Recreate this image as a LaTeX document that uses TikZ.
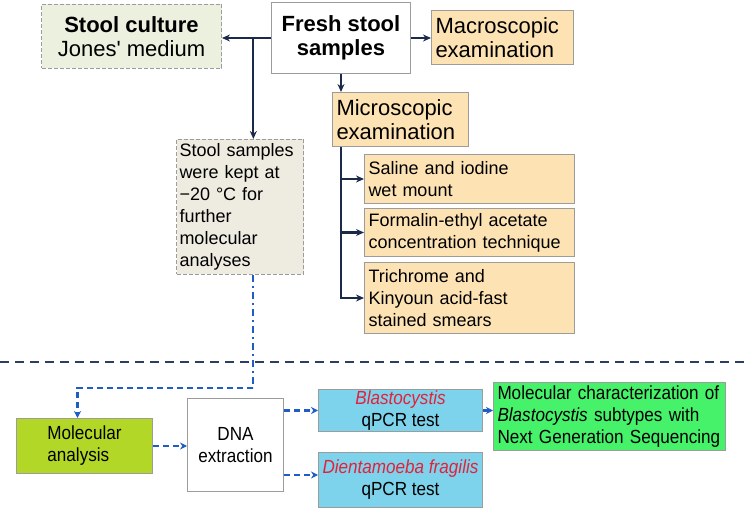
\documentclass[tikz,border=0pt]{standalone}
\usepackage{fontspec}
\setmainfont{Liberation Sans}
\newfontfamily\narrowsf[FakeStretch=0.9]{Liberation Sans}
\usetikzlibrary{positioning}
\usetikzlibrary{calc}
\usetikzlibrary{arrows.meta}
\definecolor{culturegreen}{HTML}{EBF1DE}
\definecolor{keptgray}{HTML}{EEECE1}
\definecolor{examorange}{HTML}{FDE3B3}
\definecolor{limegreen}{HTML}{B3D726}
\definecolor{qpcrblue}{HTML}{7DD3EB}
\definecolor{ngsgreen}{HTML}{45F26A}
\definecolor{speciesred}{HTML}{E3213B}
\definecolor{arrownavy}{HTML}{1C2A4A}
\definecolor{dashblue}{HTML}{1F5CC4}
\definecolor{sepnavy}{HTML}{2C3E66}
\definecolor{boxgray}{HTML}{9C9C9C}
\tikzset{
    bigfont/.style={font=\fontsize{22}{24}\selectfont},
    smallfont/.style={font=\fontsize{18}{22}\selectfont},
    lowfont/.style={font=\narrowsf\fontsize{19}{22}\selectfont},
}

\begin{document}
\begin{tikzpicture}[x=1pt, y=-1pt,
plainbox/.style={rectangle, draw=boxgray, line width=1pt, anchor=north west, inner xsep=4pt, inner ysep=1pt},
dashbox/.style={plainbox, dash pattern=on 4pt off 2pt},
navyarrow/.style={draw=arrownavy, line width=2.2pt, -{Stealth[length=8pt,width=7pt]}},
bluearrow/.style={draw=dashblue, line width=2.2pt, dash pattern=on 6pt off 4pt, -{Stealth[length=7pt,width=7pt]}},
blueline/.style={draw=dashblue, line width=2.2pt, dash pattern=on 7pt off 4pt on 2pt off 4pt},
sepline/.style={draw=sepnavy, line width=2pt, dash pattern=on 9pt off 6pt},
]
\useasboundingbox (0,0) rectangle (750,510);
%Nodes
\node[dashbox, fill=culturegreen, bigfont, minimum width=180pt, minimum height=64pt, align=center] (culture) at (41,4) {\textbf{Stool culture}\\Jones\textquotesingle{} medium};
\node[plainbox, fill=white, bigfont, minimum width=139pt, minimum height=71pt, align=center] (fresh) at (271,2) {\textbf{Fresh stool}\\\textbf{samples}};
\node[plainbox, fill=examorange, bigfont, text width=134pt, minimum height=54pt, align=left] (macro) at (431,10) {Macroscopic\\examination};
\node[plainbox, fill=examorange, bigfont, text width=128pt, minimum height=54pt, align=left] (micro) at (332,92) {Microscopic\\examination};
\node[plainbox, fill=examorange, smallfont, text width=202pt, minimum height=49pt, align=left] (saline) at (364,154) {Saline and iodine\\wet mount};
\node[plainbox, fill=examorange, smallfont, text width=202pt, minimum height=48pt, align=left] (formalin) at (364,208) {Formalin-ethyl acetate\\concentration technique};
\node[plainbox, fill=examorange, smallfont, text width=202pt, minimum height=71pt, align=left] (trichrome) at (364,262) {Trichrome and\\Kinyoun acid-fast\\stained smears};
\node[dashbox, fill=keptgray, smallfont, inner xsep=3pt, text width=121pt, minimum height=135pt, align=left] (kept) at (176,139) {Stool samples\\were kept at\\−20 °C for\\further\\molecular\\analyses};

\node[plainbox, fill=limegreen, lowfont, minimum width=136pt, minimum height=55pt, align=left] (molanalysis) at (16,418) {Molecular\\analysis};
\node[plainbox, fill=white, lowfont, minimum width=96pt, minimum height=93pt, align=center] (dnaextraction) at (187,398) {DNA\\extraction};
\node[plainbox, fill=qpcrblue, lowfont, minimum width=164pt, minimum height=42pt, align=center] (blastoqpcr) at (318,389) {\textcolor{speciesred}{\textit{Blastocystis}}\\qPCR test};
\node[plainbox, fill=qpcrblue, lowfont, minimum width=164pt, minimum height=55pt, align=center] (dientqpcr) at (318,452) {\textcolor{speciesred}{\textit{Dientamoeba fragilis}}\\qPCR test};
\node[plainbox, fill=ngsgreen, lowfont, text width=224pt, minimum height=68pt, align=left] (ngs) at (493,382) {Molecular characterization of\\\textit{Blastocystis} subtypes with\\Next Generation Sequencing};

\coordinate (fork) at ($(fresh.west)!0.36!(fresh.west -| culture.east)$);
\coordinate (bend) at ($(fork)+(0,350)$);

%Lines
\draw[navyarrow] (fresh.west) -- (fresh.west -| culture.east);
\draw[navyarrow] (fork) -- (fork |- kept.north);
\draw[navyarrow] (fresh.east) -- (fresh.east -| macro.west);
\draw[navyarrow] (fresh.south) -- (fresh.south |- micro.north);
\draw[navyarrow] (fresh.south |- micro.south) |- (trichrome.west);
\draw[navyarrow] (fresh.south |- saline.west) -- (saline.west);
\draw[navyarrow] (fresh.south |- formalin.west) -- (formalin.west);

\draw[sepline] (0,362) -- (750,362);

\draw[blueline] (fork |- kept.south) -- (bend);
\draw[bluearrow] (bend) -| ([xshift=-7pt]molanalysis.north);
\draw[bluearrow] (molanalysis.east) -- (molanalysis.east -| dnaextraction.west);
\draw[bluearrow] (dnaextraction.east |- blastoqpcr.west) -- (blastoqpcr.west);
\draw[bluearrow] ([yshift=5pt]dnaextraction.east |- dientqpcr.west) -- ([yshift=5pt]dientqpcr.west);
\draw[bluearrow, solid] (blastoqpcr.east) -- (blastoqpcr.east -| ngs.west);

\end{tikzpicture}
\end{document}
